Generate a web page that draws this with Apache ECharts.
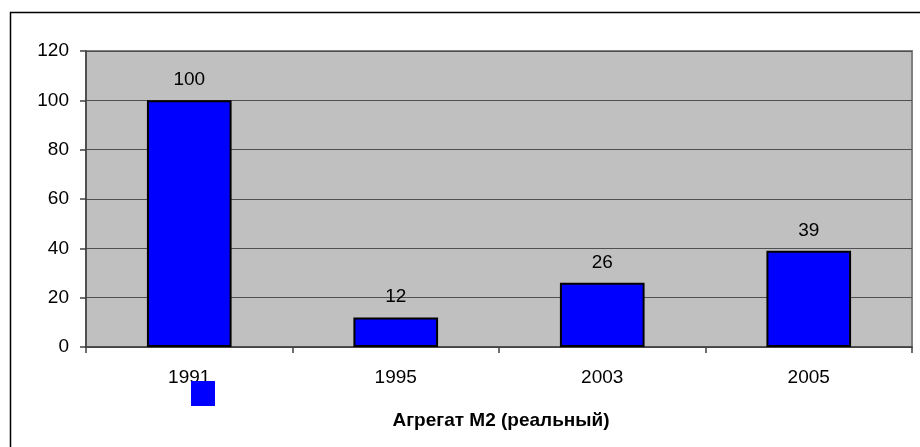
<!DOCTYPE html>
<html>
<head>
<meta charset="utf-8">
<script src="https://cdn.jsdelivr.net/npm/echarts@6/dist/echarts.min.js"></script>
<style>
html,body{margin:0;padding:0;background:#fff;}
#c{width:920px;height:447px;}
</style>
</head>
<body>
<div id="c"></div>
<script>
var categories = ['1991', '1995', '2003', '2005'];
var seriesName = 'Агрегат М2 (реальный)';
var values = [100, 12, 26, 39];
var yTicks = [0, 20, 40, 60, 80, 100, 120];

var FONT = '"Liberation Sans", Arial, sans-serif';
var chart = echarts.init(document.getElementById('c'), null, {renderer: 'canvas'});
chart.setOption({
  animation: false,
  backgroundColor: '#ffffff',
  grid: {
    left: 86, right: 8, top: 51, bottom: 100,
    show: true, backgroundColor: '#C0C0C0',
    borderColor: '#808080', borderWidth: 2
  },
  title: {
    text: seriesName,
    left: 496, top: 406,
    textAlign: 'center',
    textStyle: {fontFamily: FONT, fontSize: 19, fontWeight: 'bold', color: '#000'}
  },
  legend: {
    left: 191, top: 381,
    itemWidth: 24, itemHeight: 25,
    padding: 0,
    formatter: function () { return ''; },
    icon: 'rect',
    selectedMode: false,
    data: [{name: seriesName, itemStyle: {color: '#0000FF', borderWidth: 0}}]
  },
  xAxis: {
    type: 'category',
    data: categories,
    axisLine: {lineStyle: {color: '#404040', width: 1.5}},
    axisTick: {show: true, alignWithLabel: false, length: 6, lineStyle: {color: '#404040', width: 1.5}},
    axisLabel: {fontFamily: FONT, fontSize: 19, color: '#000', margin: 21},
    splitLine: {show: false}
  },
  yAxis: {
    type: 'value',
    min: yTicks[0], max: yTicks[yTicks.length - 1], interval: 20,
    axisLine: {show: true, lineStyle: {color: '#404040', width: 1.5}},
    axisTick: {show: true, length: 6, lineStyle: {color: '#404040', width: 1.5}},
    axisLabel: {fontFamily: FONT, fontSize: 19, color: '#000', margin: 17},
    splitLine: {show: true, lineStyle: {color: '#505050', width: 1}}
  },
  series: [{
    name: seriesName,
    type: 'bar',
    data: values,
    barWidth: '41%',
    itemStyle: {color: '#0000FF', borderColor: '#000000', borderWidth: 2},
    label: {
      show: true, position: 'top', distance: 11,
      fontFamily: FONT, fontSize: 19, color: '#000'
    }
  }],
  graphic: [{
    type: 'rect',
    shape: {x: 10.5, y: 12.5, width: 1000, height: 1000},
    style: {fill: 'none', stroke: '#000', lineWidth: 1.5},
    silent: true, z: 100
  }]
});
</script>
</body>
</html>
